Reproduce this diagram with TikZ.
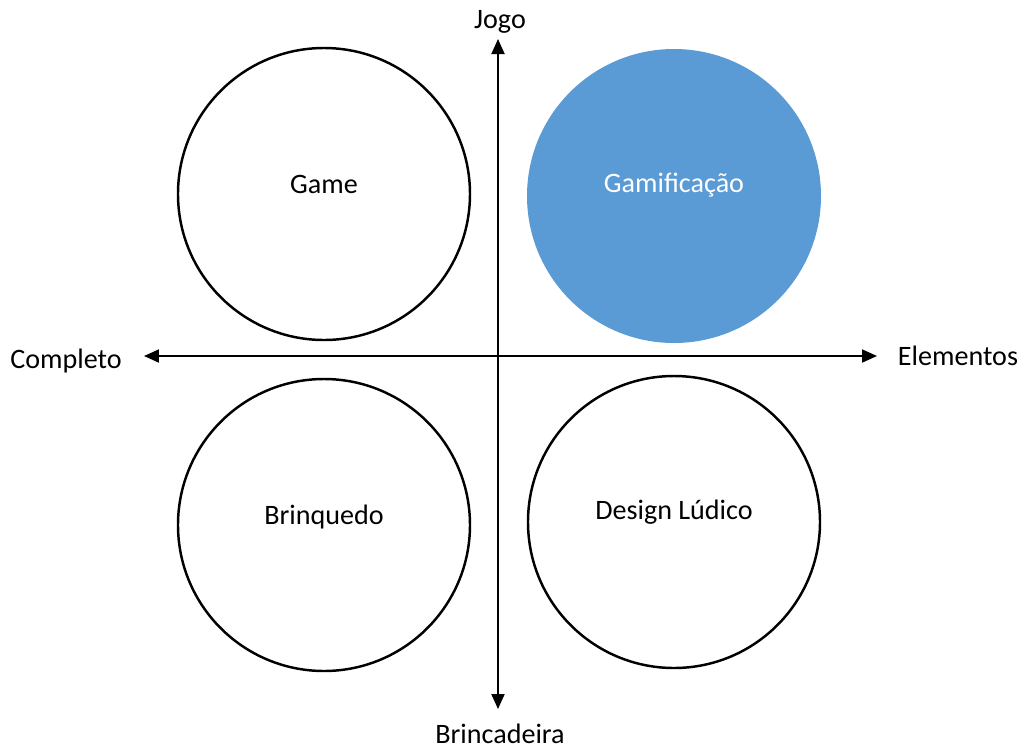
\documentclass[tikz,border=0pt]{standalone}
\usepackage{fontspec}
\setmainfont{Carlito}
\usetikzlibrary{arrows.meta}
\usetikzlibrary{positioning}

\definecolor{gamblue}{HTML}{5B9BD5}

\begin{document}
\begin{tikzpicture}[>={Triangle[length=1.5mm,width=1.3mm]}, every node/.style={font=\fontsize{8}{9.6}\selectfont}]
		\tikzstyle{quad}=[draw,line width=0.7pt,shape=circle,minimum size=2.92cm,inner sep=0pt]
		\tikzstyle{filled}=[fill=gamblue,shape=circle,minimum size=2.94cm,inner sep=0pt]
		\tikzstyle{axis}=[line width=0.55pt]
		\useasboundingbox (-4.98,-3.91) rectangle (5.24,3.56);

    % Circles
		\node[quad](game) at (-1.74,1.62){};
		\node[filled](gami) at (1.76,1.60){};
		\node[quad](brinq) at (-1.74,-1.69){};
		\node[quad](design) at (1.76,-1.66){};

		\node[yshift=0.1cm] at (game){Game};
		\node[yshift=0.11cm, text=white] at (gami){Gamificação};
		\node[yshift=0.08cm] at (brinq){Brinquedo};
		\node[yshift=0.1cm] at (design){Design Lúdico};

    % Axes
		\coordinate(top) at (0,3.17);
		\coordinate(bottom) at (0,-3.53);
		\coordinate(left) at (-3.54,0);
		\coordinate(right) at (3.79,0);

		\draw[axis,<->] (left) -- (right);
		\draw[axis,<->] (bottom) -- (top);

		\node(jogo) at (0.02,3.34){Jogo};
		\node(brinc) at (0.02,-3.78){Brincadeira};
		\node(compl) at (-4.32,-0.05){Completo};
		\node(elem) at (4.60,0){Elementos};

  \end{tikzpicture}
\end{document}
